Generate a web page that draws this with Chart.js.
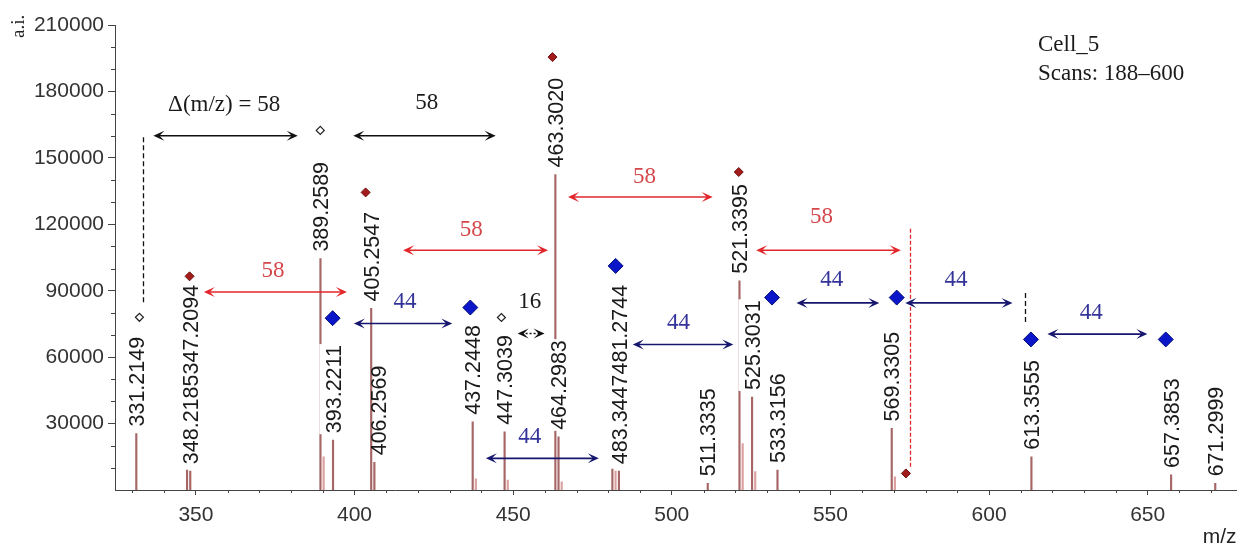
<!DOCTYPE html>
<html>
<head>
<meta charset="utf-8">
<title>Cell_5 spectrum</title>
<script src="https://cdn.jsdelivr.net/npm/chart.js@4.4.1/dist/chart.umd.min.js"></script>
<style>
  html, body { margin: 0; padding: 0; background: #fff; }
</style>
</head>
<body>
<canvas id="spectrum" width="1245" height="547"></canvas>
<script>
// Peaks (m/z, intensity in a.i.)
const peakMz  = [331.2149, 347.2094, 348.2185, 389.2589, 390.2620, 393.2211, 405.2547, 406.2569,
                 437.2448, 438.2480, 447.3039, 448.3070, 463.3020, 464.2983, 465.3010, 481.2744,
                 482.2780, 483.3447, 511.3335, 521.3395, 522.3430, 525.3031, 526.3060, 533.3156,
                 569.3305, 570.3340, 613.3555, 657.3853, 671.2999];
const peakInt = [25500, 9000, 8500, 104500, 15000, 22500, 82000, 12500,
                 30800, 5000, 26300, 4500, 142500, 24000, 3700, 9500,
                 8500, 8500, 3000, 94500, 21000, 42000, 8300, 9000,
                 27800, 6000, 15000, 6800, 3000];
// peaks that get an m/z label
const labelMz = [331.2149, 347.2094, 348.2185, 389.2589, 393.2211, 405.2547, 406.2569, 437.2448,
                 447.3039, 463.3020, 464.2983, 481.2744, 483.3447, 511.3335, 521.3395, 525.3031,
                 533.3156, 569.3305, 613.3555, 657.3853, 671.2999];

// series markers
const redMarkMz   = [348.0, 403.5, 462.4, 521.1, 573.8];
const redMarkInt  = [96500, 134400, 195500, 143600, 7500];
const openMarkMz  = [332.2, 389.2, 446.3];
const openMarkInt = [78000, 162400, 77900];
const blueMarkMz  = [393.1, 436.5, 482.3, 531.6, 570.9, 613.2, 655.7];
const blueMarkInt = [77600, 82400, 101200, 86900, 86900, 68000, 68000];

// axis ticks
const xTicks = [350, 400, 450, 500, 550, 600, 650];
const yTicks = [30000, 60000, 90000, 120000, 150000, 180000, 210000];

// mass differences: [from m/z, to m/z, level], text anchor [m/z, level]
const blackArrows = [[336.6, 382.1, 160000], [399.6, 444.5, 160000]];
const blackText   = ['\u0394(m/z) = 58', '58'];
const blackTextAt = [[358.9, 173700], [422.8, 174600]];
const redArrows   = [[352.5, 397.6, 89400], [415.3, 461.0, 108300], [467.3, 512.9, 132300], [526.6, 572.2, 108300]];
const redTextAt   = [[374.3, 98900], [436.8, 117600], [491.4, 141300], [547.2, 123100]];
const blueArrows  = [[399.8, 430.8, 75200], [441.4, 477.0, 14300], [487.7, 519.4, 65700],
                     [539.3, 565.4, 84500], [573.6, 607.4, 84500], [618.4, 649.9, 70400]];
const blueTextAt  = [[415.9, 84900], [455.2, 23900], [502.1, 75300], [550.4, 94700], [589.6, 94700], [632.2, 79800]];
const smallArrow  = [451.4, 459.9, 70700];
const smallTextAt = [455.2, 84900];
// dashed guides: [m/z, from level, to level]
const blackGuides = [[333.3, 84800, 160000], [611.3, 75900, 90200]];
const redGuides   = [[575.1, 10500, 118200]];

const SANS = '"Liberation Sans", Arial, sans-serif';
const SERIF = '"Liberation Serif", "Times New Roman", serif';
const RED_LINE = '#e2262b', RED_TEXT = '#d4474a';
const BLUE_LINE = '#16166e', BLUE_TEXT = '#33339a';

function xy(mz, v) { return mz.map((m, i) => ({ x: m, y: v[i] })); }

function arrowHead(ctx, x, y, dir) {
  ctx.beginPath();
  ctx.moveTo(x, y);
  ctx.lineTo(x - dir * 11, y - 5);
  ctx.lineTo(x - dir * 6, y);
  ctx.lineTo(x - dir * 11, y + 5);
  ctx.closePath();
  ctx.fill();
}

function doubleArrow(ctx, x1, x2, y, color, dash) {
  ctx.save();
  ctx.strokeStyle = color;
  ctx.fillStyle = color;
  ctx.lineWidth = 1.6;
  if (dash) ctx.setLineDash(dash);
  ctx.beginPath();
  ctx.moveTo(x1 + 4, y);
  ctx.lineTo(x2 - 4, y);
  ctx.stroke();
  ctx.setLineDash([]);
  arrowHead(ctx, x1, y, -1);
  arrowHead(ctx, x2, y, 1);
  ctx.restore();
}

// m/z labels written up the sticks, stacked when they collide
const peakLabels = {
  id: 'peakLabels',
  afterDatasetsDraw(chart) {
    const { ctx, scales: { x, y } } = chart;
    const size = 21.5;
    const half = size * 0.358;
    ctx.save();
    ctx.font = size + 'px ' + SANS;
    const placed = [];
    const order = labelMz.map((m, i) => i).sort((a, b) => labelMz[b] - labelMz[a]);
    for (const i of order) {
      const mz = labelMz[i];
      const txt = mz.toFixed(4);
      const len = ctx.measureText(txt).width;
      let cx = x.getPixelForValue(mz);
      let bottom = y.getPixelForValue(peakInt[peakMz.indexOf(mz)]) - 7;
      let backdrop = true;
      // keep the neighbouring taller stick clear
      const k = peakMz.indexOf(mz);
      if (k > 0 && peakMz[k] - peakMz[k - 1] < 1.2 && peakInt[k - 1] > peakInt[k] * 3 && peakInt[k - 1] < 100000) {
        cx += 4; backdrop = false;
      }
      for (const b of placed) {
        if (Math.abs(b.cx - cx) < 2 * half && bottom > b.top && bottom - len < b.bottom) {
          cx = b.cx; bottom = b.top;
        }
      }
      placed.push({ cx, bottom, top: bottom - len, txt, backdrop });
    }
    for (const p of placed) {
      if (p.backdrop) {
        ctx.fillStyle = '#fff';
        ctx.fillRect(p.cx - half - 6, p.top - 1, 2 * half + 7, p.bottom - p.top + 2);
      }
      ctx.save();
      ctx.translate(p.cx, p.bottom);
      ctx.rotate(-Math.PI / 2);
      ctx.fillStyle = '#1a1a1a';
      ctx.textAlign = 'left';
      ctx.textBaseline = 'alphabetic';
      ctx.fillText(p.txt, 0, half);
      ctx.restore();
    }
    ctx.restore();
  }
};

// mass-difference arrows, guides and captions
const deltas = {
  id: 'deltas',
  afterDatasetsDraw(chart) {
    const { ctx, scales: { x, y } } = chart;
    ctx.save();
    ctx.lineWidth = 1.3;
    const guide = (g, color, dash) => {
      ctx.strokeStyle = color;
      ctx.setLineDash(dash);
      ctx.beginPath();
      const px = Math.round(x.getPixelForValue(g[0])) + 0.5;
      ctx.moveTo(px, y.getPixelForValue(g[1]));
      ctx.lineTo(px, y.getPixelForValue(g[2]));
      ctx.stroke();
    };
    blackGuides.forEach(g => guide(g, '#111', [5, 3]));
    redGuides.forEach(g => guide(g, RED_LINE, [4, 2]));
    ctx.setLineDash([]);

    blackArrows.forEach(a => doubleArrow(ctx, x.getPixelForValue(a[0]), x.getPixelForValue(a[1]), y.getPixelForValue(a[2]), '#111'));
    redArrows.forEach(a => doubleArrow(ctx, x.getPixelForValue(a[0]), x.getPixelForValue(a[1]), y.getPixelForValue(a[2]), RED_LINE));
    blueArrows.forEach(a => doubleArrow(ctx, x.getPixelForValue(a[0]), x.getPixelForValue(a[1]), y.getPixelForValue(a[2]), BLUE_LINE));
    doubleArrow(ctx, x.getPixelForValue(smallArrow[0]), x.getPixelForValue(smallArrow[1]), y.getPixelForValue(smallArrow[2]), '#111', [2, 2]);

    ctx.font = '23px ' + SERIF;
    ctx.textAlign = 'center';
    ctx.textBaseline = 'middle';
    const say = (t, at, color) => {
      ctx.fillStyle = color;
      ctx.fillText(t, x.getPixelForValue(at[0]), y.getPixelForValue(at[1]));
    };
    blackText.forEach((t, i) => say(t, blackTextAt[i], '#1a1a1a'));
    redTextAt.forEach(at => say('58', at, RED_TEXT));
    blueTextAt.forEach(at => say('44', at, BLUE_TEXT));
    say('16', smallTextAt, '#1a1a1a');
    ctx.restore();
  }
};

// minor ticks, axis captions and run info
const decor = {
  id: 'decor',
  afterDraw(chart) {
    const { ctx, scales: { x, y }, chartArea: a } = chart;
    ctx.save();
    ctx.strokeStyle = '#444';
    ctx.lineWidth = 1;
    ctx.beginPath();
    for (let v = Math.ceil(x.min / 10) * 10; v <= x.max; v += 10) {
      if (v % 50 === 0) continue;
      const px = Math.round(x.getPixelForValue(v)) + 0.5;
      ctx.moveTo(px, a.bottom);
      ctx.lineTo(px, a.bottom + 3);
    }
    for (let v = 10000; v < y.max; v += 10000) {
      if (v % 30000 === 0) continue;
      const py = Math.round(y.getPixelForValue(v)) + 0.5;
      ctx.moveTo(a.left, py);
      ctx.lineTo(a.left - 4, py);
    }
    ctx.stroke();

    ctx.fillStyle = '#222';
    ctx.font = '21px ' + SANS;
    ctx.textAlign = 'right';
    ctx.textBaseline = 'middle';
    ctx.fillText('m/z', a.right, 537);

    ctx.save();
    ctx.translate(19, 38);
    ctx.rotate(-Math.PI / 2);
    ctx.font = '19px ' + SERIF;
    ctx.textAlign = 'left';
    ctx.fillText('a.i.', 0, 0);
    ctx.restore();

    ctx.font = '23px ' + SERIF;
    ctx.textAlign = 'left';
    ctx.textBaseline = 'alphabetic';
    ctx.fillStyle = '#1a1a1a';
    ctx.fillText('Cell_5', 1038, 51);
    ctx.fillText('Scans: 188\u2013600', 1038, 80);
    ctx.restore();
  }
};

const labelled = new Set(labelMz);

new Chart(document.getElementById('spectrum'), {
  type: 'bar',
  data: {
    datasets: [
      {
        type: 'scatter', data: xy(blueMarkMz, blueMarkInt), order: 0,
        pointStyle: 'rectRot', pointRadius: 7.5, backgroundColor: '#0b16c9', borderColor: '#06107a', borderWidth: 1
      },
      {
        type: 'scatter', data: xy(redMarkMz, redMarkInt), order: 0,
        pointStyle: 'rectRot', pointRadius: 4.5, backgroundColor: '#a31c1c', borderColor: '#6e0f0f', borderWidth: 1
      },
      {
        type: 'scatter', data: xy(openMarkMz, openMarkInt), order: 0,
        pointStyle: 'rectRot', pointRadius: 4, backgroundColor: '#fff', borderColor: '#222', borderWidth: 1.2
      },
      {
        type: 'bar', data: xy(peakMz, peakInt), order: 3,
        barThickness: 1.5,
        backgroundColor: ctx => labelled.has(peakMz[ctx.dataIndex]) ? 'rgba(150,75,75,0.85)' : 'rgba(205,120,120,0.7)'
      }
    ]
  },
  options: {
    responsive: false,
    animation: false,
    devicePixelRatio: 1,
    layout: { padding: { top: 25, right: 7, left: 0, bottom: 0 } },
    plugins: { legend: { display: false }, tooltip: { enabled: false } },
    scales: {
      x: {
        type: 'linear', min: 324.5, max: 678, offset: false,
        grid: { drawOnChartArea: false, drawTicks: true, tickLength: 5, offset: false, color: '#444' },
        border: { color: '#444', width: 1 },
        ticks: { font: { size: 21, family: SANS }, color: '#333', padding: 8, autoSkip: false, maxRotation: 0, includeBounds: false,
                 callback: v => String(v) },
        afterBuildTicks: s => { s.ticks = xTicks.map(v => ({ value: v })); },
        afterFit: s => { s.height = 57; }
      },
      y: {
        min: 0, max: 210000,
        grid: { drawOnChartArea: false, drawTicks: true, tickLength: 7, color: '#444' },
        border: { color: '#444', width: 1 },
        ticks: { font: { size: 21, family: SANS }, color: '#333', padding: 4, includeBounds: false,
                 callback: v => String(v) },
        afterBuildTicks: s => { s.ticks = yTicks.map(v => ({ value: v })); },
        afterFit: s => { s.width = 115; }
      }
    }
  },
  plugins: [peakLabels, deltas, decor]
});
</script>
</body>
</html>
